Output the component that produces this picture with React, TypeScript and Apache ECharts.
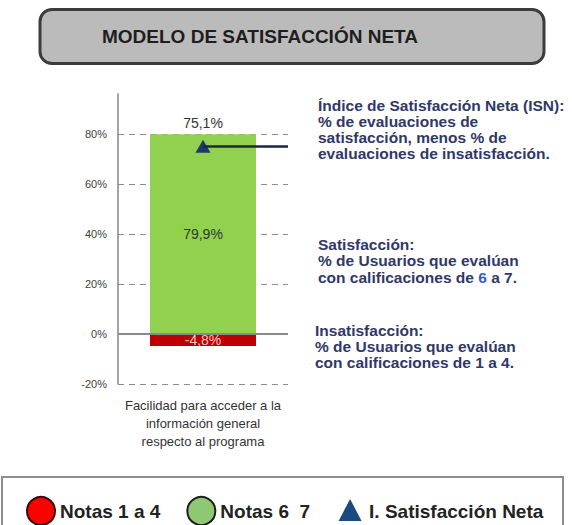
import React, { useEffect, useRef } from 'react';
import * as echarts from 'echarts';

const categories = ['Facilidad para acceder a la\ninformación general\nrespecto al programa'];
const satisfaccion = [79.9];
const insatisfaccion = [-4.8];
const isn = [75.1];
const gridTicks = [-20, 20, 40, 60, 80];
const seriesNames = ['Notas 1 a 4', 'Notas 6  7', 'I. Satisfacción Neta'];
const titleText = 'MODELO DE SATISFACCIÓN NETA';
const noteISN = 'Índice de Satisfacción Neta (ISN):\n% de evaluaciones de\nsatisfacción, menos % de\nevaluaciones de insatisfacción.';
const noteSat = 'Satisfacción:\n% de Usuarios que evalúan\ncon calificaciones de {b|6} a 7.';
const noteIns = 'Insatisfacción:\n% de Usuarios que evalúan\ncon calificaciones de 1 a 4.';

const FONT = '"Liberation Sans", Arial, sans-serif';
const fmt = (v: number) => v.toFixed(1).replace('.', ',') + '%';

export default function App() {
  const ref = useRef<HTMLDivElement>(null);
  useEffect(() => {
    if (!ref.current) return;
    const chart = echarts.init(ref.current, undefined, { renderer: 'svg' });
    const noteColor = '#2f3867';
    chart.setOption({
      animation: false,
      backgroundColor: '#ffffff',
      textStyle: { fontFamily: FONT },
      grid: { left: 118, right: 284, top: 94, bottom: 141, containLabel: false },
      xAxis: {
        type: 'category',
        data: categories,
        axisLine: { show: false, onZero: false },
        axisTick: { show: false },
        axisLabel: { margin: 12, fontSize: 13, lineHeight: 18, color: '#333', fontFamily: FONT },
      },
      yAxis: {
        type: 'value',
        min: -20,
        max: 96,
        interval: 20,
        axisLine: { show: true, onZero: false, lineStyle: { color: '#868686', width: 1.5 } },
        axisTick: { show: false },
        splitLine: { show: false },
        axisLabel: {
          showMaxLabel: false,
          margin: 11,
          fontSize: 11,
          color: '#404040',
          formatter: (v: number) => (v % 20 === 0 ? v + '%' : ''),
        },
      },
      legend: {
        left: 21,
        top: 491,
        itemWidth: 28,
        itemHeight: 28,
        itemGap: 26,
        selectedMode: false,
        textStyle: { fontSize: 19, fontWeight: 'bold', color: '#222', fontFamily: FONT },
        data: [
          { name: seriesNames[0], icon: 'circle', itemStyle: { color: '#ff0000', borderColor: '#3a0000', borderWidth: 2 } },
          { name: seriesNames[1], icon: 'circle', itemStyle: { color: '#8fc872', borderColor: '#1e1e1e', borderWidth: 2 } },
          { name: seriesNames[2], icon: 'path://M0 0M28 28M2.5 24L14 2L25.5 24Z', itemStyle: { color: '#1b4a82', borderWidth: 0 } },
        ],
      },
      graphic: [
        {
          type: 'rect', z: 0,
          shape: { x: 40, y: 9.5, width: 504, height: 54, r: 12 },
          style: { fill: '#bbbbbb', stroke: '#3c3c3c', lineWidth: 3 },
        },
        {
          type: 'text', z: 1, x: 102, y: 36,
          style: { text: titleText, font: `bold 19px ${FONT}`, fill: '#1e1e1e', verticalAlign: 'middle' },
        },
        {
          type: 'rect', z: 0,
          shape: { x: 2, y: 477, width: 561, height: 60 },
          style: { fill: 'none', stroke: '#8c8c8c', lineWidth: 2 },
        },
        {
          type: 'text', x: 318, y: 97,
          style: { text: noteISN, font: `bold 15.5px ${FONT}`, fill: noteColor, lineHeight: 16, verticalAlign: 'top' },
        },
        {
          type: 'text', x: 318, y: 236.5,
          style: {
            text: noteSat, font: `bold 15.5px ${FONT}`, fill: noteColor, lineHeight: 16.3, verticalAlign: 'top',
            rich: { b: { fill: '#3b5bc4', fontSize: 15.5, fontWeight: 'bold', fontFamily: FONT, lineHeight: 16.3 } },
          },
        },
        {
          type: 'text', x: 315, y: 322,
          style: { text: noteIns, font: `bold 15.5px ${FONT}`, fill: noteColor, lineHeight: 16.3, verticalAlign: 'top' },
        },
      ],
      series: [
        {
          name: seriesNames[0],
          type: 'bar',
          stack: 'total',
          data: insatisfaccion,
          barWidth: 106,
          itemStyle: { color: '#c00000' },
          label: { show: true, position: 'inside', formatter: (p: any) => fmt(p.value), color: '#f6c4c4', fontSize: 14 },
        },
        {
          name: seriesNames[1],
          type: 'bar',
          stack: 'total',
          data: satisfaccion,
          barWidth: 106,
          itemStyle: { color: '#92d050' },
          label: { show: true, position: 'inside', formatter: (p: any) => fmt(p.value), color: '#2d3b2d', fontSize: 14 },
          markLine: {
            z: 1,
            silent: true,
            symbol: ['none', 'none'],
            label: { show: false },
            lineStyle: { color: '#8c8c8c', type: [6, 5], width: 1 },
            data: gridTicks.map((v) => ({ yAxis: v })),
          },
        },
        {
          name: seriesNames[2],
          type: 'line',
          data: isn,
          symbol: 'triangle',
          symbolSize: [15, 13],
          itemStyle: { color: '#1f3864' },
          label: { show: true, position: 'top', distance: 10, formatter: (p: any) => fmt(p.value), color: '#333', fontSize: 14 },
          markLine: {
            silent: true,
            symbol: ['none', 'none'],
            label: { show: false },
            data: [
              { yAxis: 0, lineStyle: { color: '#8a8a8a', width: 2, type: 'solid' } },
              [
                { coord: [0, isn[0]], lineStyle: { color: '#1a2540', width: 2.5, type: 'solid' } },
                { coord: [0, isn[0]], x: 288 },
              ],
            ],
          },
        },
      ],
    });
    return () => chart.dispose();
  }, []);
  return <div ref={ref} style={{ position: 'absolute', left: 0, top: 0, width: 572, height: 525 }} />;
}
